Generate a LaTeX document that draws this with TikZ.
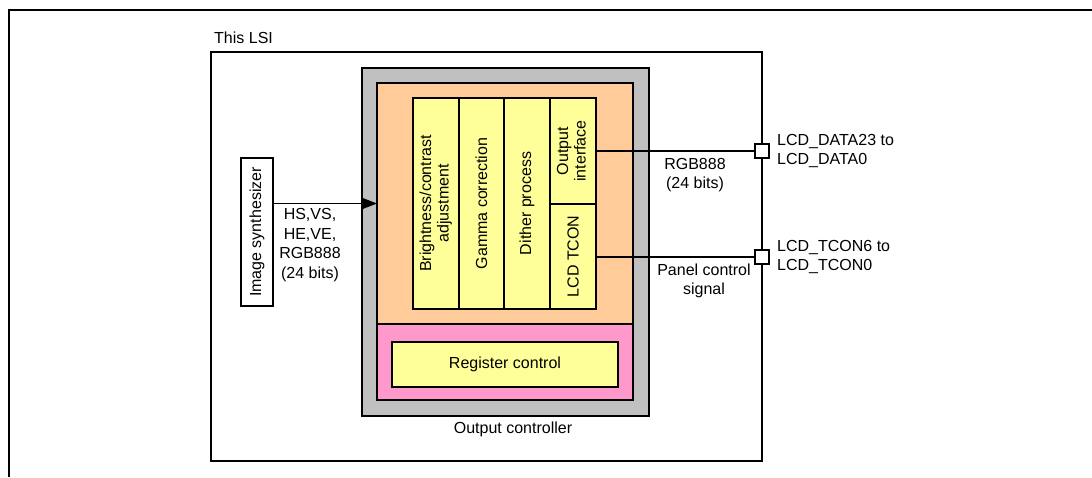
\documentclass[tikz,border=0pt]{standalone}
\usepackage{fontspec}
\setmainfont{Liberation Sans}
\usetikzlibrary{arrows.meta}
\definecolor{ocgray}{HTML}{C0C0C0}
\definecolor{ocorange}{HTML}{FFCC99}
\definecolor{ocpink}{HTML}{FF99CC}
\definecolor{ocyellow}{HTML}{FFFF99}
\begin{document}
\begin{tikzpicture}[x=1pt,y=-1pt,
  font=\fontsize{16}{19.5}\selectfont,
  blk/.style={draw, line width=2.4pt, inner sep=0pt, outer sep=0pt, anchor=north west},
  col/.style={blk, fill=ocyellow, minimum height=211pt},
  lbl/.style={inner sep=0pt, align=center},
  wire/.style={line width=1.2pt},
  pin/.style={draw, fill=white, line width=2.4pt, minimum size=14pt, inner sep=0pt}]
\useasboundingbox (0,0) rectangle (1092,477);
\draw[line width=2.2pt] (1092,10) -- (9,10) -- (9,477);
% LSI
\node[blk, minimum width=551pt, minimum height=409pt] (lsi) at (211,52) {};
\node[lbl, anchor=west] (lsit) at (214,38) {This LSI};
% output controller
\node[blk, fill=ocgray, minimum width=287pt, minimum height=348pt] (oc) at (362,68) {};
\node[blk, fill=ocpink, minimum width=256pt, minimum height=317pt] (pink) at (377,83) {};
\node[blk, fill=ocorange, minimum width=256pt, minimum height=241pt] (orange) at (377,83) {};
\node[col, minimum width=46pt] (bright) at (413,98) {\rotatebox{90}{\begin{tabular}{@{}c@{}}Brightness/contrast\\[-2pt]adjustment\end{tabular}}};
\node[col, minimum width=45pt] (gamma) at (459,98) {\rotatebox{90}{Gamma correction}};
\node[col, minimum width=46pt] (dither) at (504,98) {\rotatebox{90}{Dither process}};
\node[blk, fill=ocyellow, minimum width=46pt, minimum height=106pt] (outif) at (550,98) {\rotatebox{90}{\begin{tabular}{@{}c@{}}Output\\[-2pt]interface\end{tabular}}};
\node[blk, fill=ocyellow, minimum width=46pt, minimum height=105pt] (tcon) at (550,204) {\rotatebox{90}{LCD TCON}};
\node[blk, fill=ocyellow, minimum width=226pt, minimum height=45pt] (reg) at (392,342) {Register control};
\node[lbl] (oct) at (513,429) {Output controller};
% image synthesizer
\node[blk, minimum width=32pt, minimum height=148pt] (img) at (241,158) {\rotatebox{90}{Image synthesizer}};
\draw[wire, -{Triangle[length=16pt,width=12pt]}] (img.east |- orange.west) -- (orange.west);
\node[lbl] (inl) at (310,245) {HS,VS,\\HE,VE,\\RGB888\\(24 bits)};
% pins
\node[pin] (p1) at (762,151) {};
\node[pin] (p2) at (762,257) {};
\draw[wire] (outif.east |- p1) -- (p1.west);
\draw[wire] (tcon.east |- p2) -- (p2.west);
\node[lbl] (rgbl) at (695,175) {RGB888\\(24 bits)};
\node[lbl] (pcl) at (704,281) {Panel control\\signal};
\node[lbl, anchor=west, align=left] (p1l) at (777,151) {LCD\_DATA23 to\\LCD\_DATA0};
\node[lbl, anchor=west, align=left] (p2l) at (777,257) {LCD\_TCON6 to\\LCD\_TCON0};
\end{tikzpicture}
\end{document}
